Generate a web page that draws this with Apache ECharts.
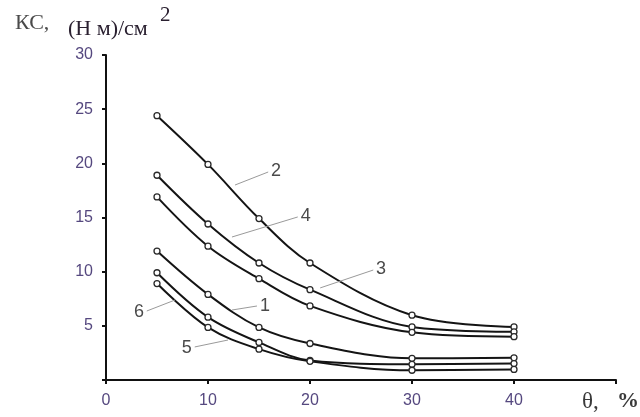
<!DOCTYPE html>
<html>
<head>
<meta charset="utf-8">
<script src="https://cdn.jsdelivr.net/npm/echarts@6/dist/echarts.min.js"></script>
<style>
  html, body { margin: 0; padding: 0; background: #fff; }
  #chart { width: 640px; height: 417px; }
</style>
</head>
<body>
<div id="chart"></div>
<script>
// Filler content θ, % against KC, (Н м)/см² for six compositions
const theta = [5, 10, 15, 20, 30, 40];
const curve1 = [11.9, 7.9, 4.85, 3.37, 2.0, 2.05];
const curve2 = [24.4, 19.9, 14.9, 10.8, 5.98, 4.9];
const curve3 = [16.9, 12.35, 9.35, 6.84, 4.4, 4.0];
const curve4 = [18.9, 14.4, 10.8, 8.34, 4.9, 4.45];
const curve5 = [8.9, 4.85, 2.85, 1.72, 0.9, 0.98];
const curve6 = [9.9, 5.8, 3.47, 1.8, 1.45, 1.52];

const xTicks = [0, 10, 20, 30, 40];
const yTicks = [5, 10, 15, 20, 25, 30];

// Leader lines for the curve numbers: [from on curve, to label] in data units
const leaders = {
  '1': [[12.35, 6.46], [14.8, 6.83]],
  '2': [[12.65, 18.0], [15.9, 19.2]],
  '3': [[21.0, 8.5], [26.2, 10.15]],
  '4': [[12.35, 13.2], [18.8, 15.05]],
  '5': [[11.96, 3.69], [8.7, 3.05]],
  '6': [[6.76, 7.38], [4.0, 6.37]]
};

const curves = { '1': curve1, '2': curve2, '3': curve3, '4': curve4, '5': curve5, '6': curve6 };

const tickColor = '#55487f';

function makeSeries(name) {
  const vals = curves[name];
  const lead = leaders[name];
  return {
    name: name,
    type: 'line',
    smooth: 0.35,
    data: theta.map((t, i) => [t, vals[i]]),
    symbol: 'circle',
    symbolSize: 6,
    lineStyle: { color: '#141414', width: 2 },
    itemStyle: { color: '#ffffff', borderColor: '#2a2a2a', borderWidth: 1.3 },
    z: 3,
    markLine: {
      silent: true,
      symbol: ['none', 'none'],
      animation: false,
      lineStyle: { color: '#9a9a9a', width: 1, type: 'solid' },
      label: {
        show: true,
        position: 'end',
        distance: 3,
        formatter: name,
        color: '#4a4a4a',
        fontFamily: 'Liberation Sans',
        fontSize: 18
      },
      data: [[{ coord: lead[0] }, { coord: lead[1] }]]
    }
  };
}

const chart = echarts.init(document.getElementById('chart'), null, { renderer: 'canvas' });

chart.setOption({
  animation: false,
  backgroundColor: '#ffffff',
  grid: { left: 106, right: 24, top: 55, bottom: 37, containLabel: false },
  xAxis: {
    type: 'value',
    min: 0,
    max: 50,
    interval: 10,
    axisLine: { show: true, lineStyle: { color: '#111', width: 2 } },
    axisTick: { show: true, length: 4, lineStyle: { color: '#111', width: 2 } },
    splitLine: { show: false },
    axisLabel: {
      margin: 13,
      color: tickColor,
      fontFamily: 'Liberation Sans',
      fontSize: 16,
      formatter: v => (xTicks.indexOf(v) >= 0 ? String(v) : '')
    }
  },
  yAxis: {
    type: 'value',
    min: 0,
    max: 30,
    interval: 5,
    axisLine: { show: true, lineStyle: { color: '#111', width: 2 } },
    axisTick: { show: true, length: 4, lineStyle: { color: '#111', width: 2 } },
    splitLine: { show: false },
    axisLabel: {
      margin: 13,
      color: tickColor,
      fontFamily: 'Liberation Sans',
      fontSize: 16,
      formatter: v => (yTicks.indexOf(v) >= 0 ? String(v) : '')
    }
  },
  graphic: [
    {
      type: 'text', left: 15, top: 12,
      style: { text: 'КС,', font: '22px "Liberation Serif"', fill: '#4a4a4a' }
    },
    {
      type: 'text', left: 68, top: 18,
      style: { text: '(Н м)/см', font: '22px "Liberation Serif"', fill: '#2a2030' }
    },
    {
      type: 'text', left: 160, top: 5,
      style: { text: '2', font: '21px "Liberation Serif"', fill: '#2a2030' }
    },
    {
      type: 'text', left: 582, top: 390,
      style: { text: 'θ,', font: '23px "Liberation Serif"', fill: '#3a3a3a' }
    },
    {
      type: 'text', left: 617, top: 390,
      style: { text: '%', font: 'bold 22px "Liberation Serif"', fill: '#3a3a3a' }
    }
  ],
  series: ['2', '4', '3', '1', '6', '5'].map(makeSeries)
});
</script>
</body>
</html>
